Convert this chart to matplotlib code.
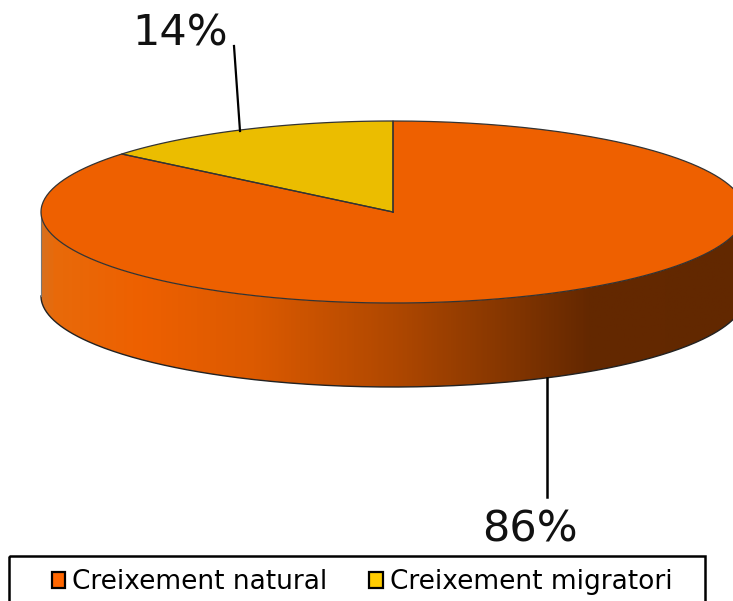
import matplotlib
matplotlib.use("Agg")
import matplotlib.pyplot as plt
import numpy as np
from matplotlib.colors import LinearSegmentedColormap
from matplotlib.patches import Patch, Rectangle, Polygon

labels = ["Creixement natural", "Creixement migratori"]
shares = [86, 14]
pct_labels = ["86%", "14%"]
colors = ["#EE6000", "#EBBD00"]
legend_colors = ["#FF6600", "#FFCC00"]

W, H = 733, 601
cx, cy, rx, ry, depth = 393, 212, 352, 91, 84

fig = plt.figure(figsize=(W / 100, H / 100), dpi=100)
ax = fig.add_axes([0, 0, 1, 1])
ax.set_xlim(0, W)
ax.set_ylim(H, 0)
ax.axis("off")

# slice angles, going counter clockwise from 12 o'clock
a_migr = np.pi / 2 + shares[1] / sum(shares) * 2 * np.pi
t = np.linspace(a_migr, np.pi / 2 + 2 * np.pi, 300)
x_nat = np.r_[cx, cx + rx * np.cos(t)]
y_nat = np.r_[cy, cy - ry * np.sin(t)]
t2 = np.linspace(np.pi / 2, a_migr, 80)
x_mig = np.r_[cx, cx + rx * np.cos(t2)]
y_mig = np.r_[cy, cy - ry * np.sin(t2)]

# side of the disc with the gradient
tb = np.linspace(np.pi, 2 * np.pi, 300)
xe, ye = cx + rx * np.cos(tb), cy - ry * np.sin(tb)
side_x = np.r_[xe, xe[::-1]]
side_y = np.r_[ye, ye[::-1] + depth]
cmap = LinearSegmentedColormap.from_list("side", [
    (0.0, "#D8701E"), (0.015, "#E86A0A"), (0.14, "#EE6000"), (0.3, "#DC5A00"),
    (0.5, "#B04800"), (0.68, "#803400"), (0.78, "#642800"), (1.0, "#622800")])
grad = np.linspace(0, 1, 400).reshape(1, -1)
im = ax.imshow(grad, cmap=cmap, extent=(cx - rx, cx + rx, cy + ry + depth, cy - ry),
               aspect="auto", zorder=1)
clip = Polygon(np.c_[side_x, side_y], closed=True, transform=ax.transData)
im.set_clip_path(clip)
ax.set_xlim(0, W)
ax.set_ylim(H, 0)
ax.plot(xe, ye + depth, color="#222222", lw=1.0, zorder=2)
ax.plot([cx - rx, cx - rx], [cy, cy + depth], color="#777777", lw=0.8, zorder=2)

# top
ax.fill(x_nat, y_nat, color=colors[0], lw=0, zorder=3)
ax.fill(x_mig, y_mig, color=colors[1], lw=0, zorder=3)
ax.plot(np.r_[x_nat, cx], np.r_[y_nat, cy], color="#333333", lw=0.9, zorder=4)
ax.plot(np.r_[x_mig, cx], np.r_[y_mig, cy], color="#333333", lw=0.9, zorder=4)

# leader lines and percentages
ax.plot([240, 234], [131, 46], color="black", lw=1.6, zorder=5)
ax.plot([547, 547], [378, 497], color="black", lw=1.8, zorder=5)
ax.text(180, 33.5, pct_labels[1], fontsize=31, ha="center", va="center", color="#111111")
ax.text(530, 529, pct_labels[0], fontsize=31, ha="center", va="center", color="#111111")

# legend, the box runs off the bottom of the picture
ax.add_patch(Rectangle((9, 556), 696, 60, fill=False, ec="black", lw=1.8, zorder=5))
handles = [Patch(fc=c, ec="black", lw=1.6) for c in legend_colors]
ax.legend(handles, labels, ncol=2, frameon=False, fontsize=19, loc="center",
          bbox_to_anchor=(362 / W, 1 - 582 / H), handlelength=0.5, handleheight=0.55,
          handletextpad=0.27, columnspacing=1.6, borderpad=0, labelspacing=0)

fig.savefig("out.png", dpi=100)
